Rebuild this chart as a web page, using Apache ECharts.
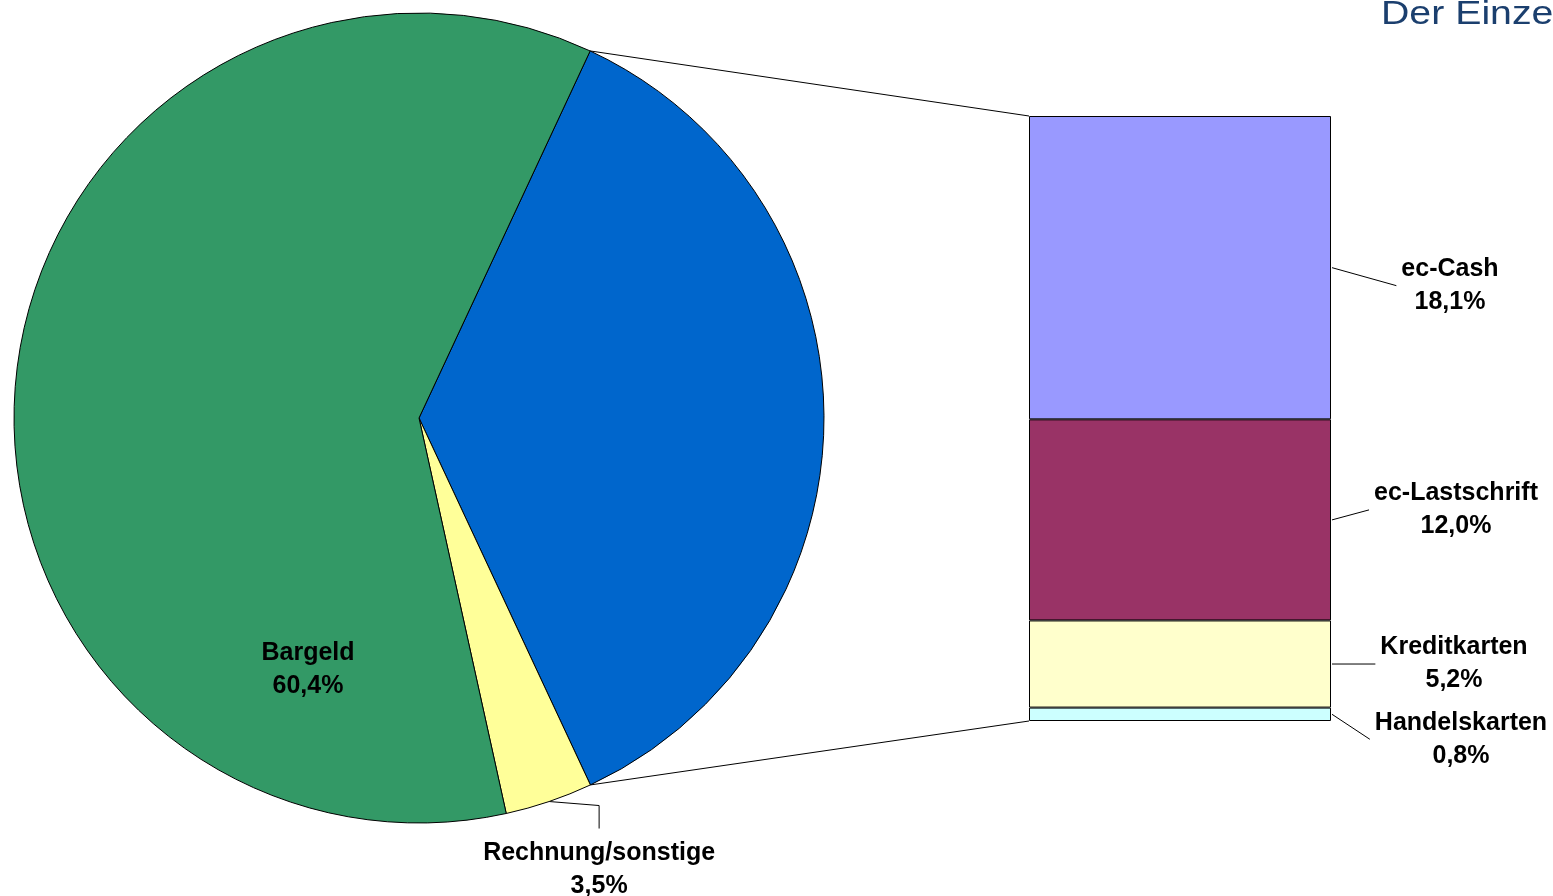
<!DOCTYPE html>
<html><head><meta charset="utf-8">
<script src="https://cdn.jsdelivr.net/npm/echarts@6/dist/echarts.min.js"></script>
<style>html,body{margin:0;padding:0;background:#fff}#c{width:1553px;height:896px}</style>
</head><body><div id="c"></div>
<script>
// ---- data ----
const pieNames = ['Karten', 'Rechnung/sonstige', 'Bargeld'];
const pieValues = [36.1, 3.5, 60.4];
const barNames = ['Handelskarten', 'Kreditkarten', 'ec-Lastschrift', 'ec-Cash'];
const barValues = [0.8, 5.2, 12.0, 18.1];
const titleText = 'Der Einze';

// ---- layout / style ----
const CX = 419, CY = 418, R = 405, START = 65;
const pieColors = ['#0066CC', '#FFFF99', '#339966'];
const barColors = ['#CCFFFF', '#FFFFCC', '#993366', '#9999FF'];
const barLabelOffsets = [[130, 25], [123, 0], [125, -10], [119, 18]];
const FONT = '"Liberation Sans", Arial, sans-serif';
const FS = 25;
const fmt = v => v.toFixed(1).replace('.', ',') + '%';
const barTotal = barValues.reduce((a, b) => a + b, 0);

const chart = echarts.init(document.getElementById('c'), null, {renderer: 'canvas'});

const labelStyle = {
  fontFamily: FONT, fontWeight: 'bold', fontSize: FS, lineHeight: 33, color: '#000', align: 'center'
};

const series = [{
  type: 'pie',
  center: [CX, CY],
  radius: R,
  startAngle: START,
  clockwise: true,
  silent: true,
  avoidLabelOverlap: false,
  itemStyle: {borderColor: '#000', borderWidth: 1},
  label: Object.assign({show: true, formatter: p => p.name + '\n' + fmt(p.value)}, labelStyle),
  labelLine: {show: true, lineStyle: {color: '#000', width: 1}, length: 20, length2: 20},
  labelLayout: function (p) {
    if (p.dataIndex === 2) {
      return {x: CX - 111, y: CY + 252, align: 'center', verticalAlign: 'middle'};
    }
    if (p.dataIndex === 1 && p.labelLinePoints) {
      const p0 = p.labelLinePoints[0];
      const x1 = p0[0] + 50;
      return {
        x: x1, y: p0[1] + 35, align: 'center', verticalAlign: 'top',
        labelLinePoints: [p0, [x1, p0[1] + 4], [x1, p0[1] + 27]]
      };
    }
    return {};
  },
  data: pieNames.map((n, i) => ({
    name: n, value: pieValues[i],
    itemStyle: {color: pieColors[i]},
    label: i === 0 ? {show: false} : (i === 2 ? {position: 'inside'} : {position: 'outside'}),
    labelLine: i === 1 ? {show: true} : {show: false}
  }))
}];

barNames.forEach((n, i) => {
  series.push({
    type: 'bar', name: n, stack: 'k', barWidth: '100%', silent: true,
    itemStyle: {color: barColors[i], borderColor: '#000', borderWidth: 1},
    label: Object.assign({show: true, position: 'right', formatter: p => p.seriesName + '\n' + fmt(p.value)}, labelStyle),
    labelLayout: function (p) {
      const o = barLabelOffsets[i];
      const r = p.rect;
      return {x: r.x + r.width + o[0], y: r.y + r.height / 2 + o[1], align: 'center', verticalAlign: 'middle'};
    },
    data: [barValues[i]]
  });
});

chart.setOption({
  animation: false,
  backgroundColor: '#fff',
  grid: {left: 1029, right: 222, top: 116, bottom: 175},
  xAxis: {type: 'category', data: ['Karten'], show: false},
  yAxis: {type: 'value', min: 0, max: barTotal, show: false},
  series: series
});

// text measurement for leader lines
const mctx = document.createElement('canvas').getContext('2d');
mctx.font = 'bold ' + FS + 'px ' + FONT;

const graphics = [];
// leader lines for bar labels, from each segment's layout
barNames.forEach((n, i) => {
  const lay = chart.getModel().getSeriesByIndex(i + 1).getData().getItemLayout(0);
  const x0 = Math.min(lay.x, lay.x + lay.width), x1 = Math.max(lay.x, lay.x + lay.width);
  const y0 = Math.min(lay.y, lay.y + lay.height), y1 = Math.max(lay.y, lay.y + lay.height);
  const o = barLabelOffsets[i];
  const cx = x1 + o[0];
  const ly = (y0 + y1) / 2 + o[1];
  const w = Math.max(mctx.measureText(n).width, mctx.measureText(fmt(barValues[i])).width);
  const left = cx - w / 2 - 5;
  graphics.push({type: 'polyline', silent: true, shape: {points: [[x1 + 1, (y0 + y1) / 2], [left, ly]]},
    style: {stroke: '#000', lineWidth: 1, fill: null}});
});

// connector lines from the card slice edges to the bar corners
const rect = chart.getModel().getComponent('grid', 0).coordinateSystem.getRect();
const blueFrac = pieValues[0] / pieValues.reduce((a, b) => a + b, 0);
const a0 = START * Math.PI / 180;
const a1 = a0 - blueFrac * 2 * Math.PI;
const pTop = [CX + R * Math.cos(a0), CY - R * Math.sin(a0)];
const pBot = [CX + R * Math.cos(a1), CY - R * Math.sin(a1)];
const yTop = chart.convertToPixel({yAxisIndex: 0}, barTotal);
const yBot = chart.convertToPixel({yAxisIndex: 0}, 0);
graphics.push(
  {type: 'line', silent: true, shape: {x1: pTop[0], y1: pTop[1], x2: rect.x, y2: yTop}, style: {stroke: '#000', lineWidth: 1}},
  {type: 'line', silent: true, shape: {x1: pBot[0], y1: pBot[1], x2: rect.x, y2: yBot}, style: {stroke: '#000', lineWidth: 1}},
  {type: 'text', silent: true, x: 1381, y: -2, scaleX: 1.19,
   style: {text: titleText, fontFamily: FONT, fontSize: 33, fill: '#1B3F6E', verticalAlign: 'top', align: 'left'}}
);
chart.setOption({graphic: graphics});
</script></body></html>
